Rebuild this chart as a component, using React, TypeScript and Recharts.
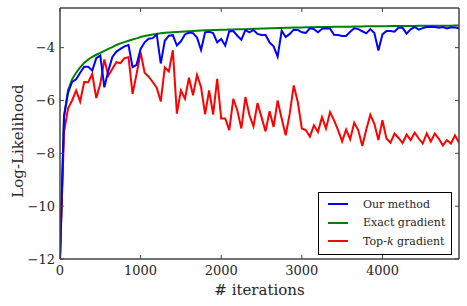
import React from "react";
import { LineChart, Line, XAxis, YAxis } from "recharts";

const iterations = [
  0, 50, 100, 150, 200, 250, 300, 350, 400, 450, 500, 550, 600, 650, 700, 750, 800, 850, 900, 950,
  1000, 1050, 1100, 1150, 1200, 1250, 1300, 1350, 1400, 1450, 1500, 1550, 1600, 1650, 1700, 1750, 1800, 1850, 1900, 1950,
  2000, 2050, 2100, 2150, 2200, 2250, 2300, 2350, 2400, 2450, 2500, 2550, 2600, 2650, 2700, 2750, 2800, 2850, 2900, 2950,
  3000, 3050, 3100, 3150, 3200, 3250, 3300, 3350, 3400, 3450, 3500, 3550, 3600, 3650, 3700, 3750, 3800, 3850, 3900, 3950,
  4000, 4050, 4100, 4150, 4200, 4250, 4300, 4350, 4400, 4450, 4500, 4550, 4600, 4650, 4700, 4750, 4800, 4850, 4900, 4950,
];

const ourMethod = [
  -12, -6.6, -5.7, -5.3, -5.2, -4.95, -4.72, -4.72, -4.87, -4.4, -4.3, -5.5, -4.87, -4.35, -4.15, -4.05, -3.95, -3.9, -4.74, -4.65,
  -4.05, -3.8, -3.66, -3.64, -3.5, -4.6, -3.74, -3.55, -3.53, -3.92, -3.76, -3.5, -3.43, -3.45, -3.62, -4.09, -3.42, -3.4, -3.45, -3.8,
  -3.67, -3.92, -3.38, -3.37, -3.55, -3.7, -3.34, -3.42, -3.33, -3.48, -3.52, -3.52, -3.8, -3.95, -4.34, -3.36, -3.6, -3.48, -3.32, -3.33,
  -3.42, -3.44, -3.27, -3.3, -3.42, -3.29, -3.27, -3.28, -3.51, -3.52, -3.56, -3.56, -3.4, -3.27, -3.3, -3.38, -3.46, -3.3, -3.45, -4.11,
  -3.5, -3.37, -3.37, -3.4, -3.24, -3.25, -3.47, -3.31, -3.22, -3.32, -3.26, -3.22, -3.21, -3.22, -3.25, -3.22, -3.27, -3.23, -3.24, -3.27,
];

const exactGradient = [
  -12, -6.6, -5.6, -5.2, -4.95, -4.75, -4.58, -4.45, -4.35, -4.27, -4.2, -4.12, -4.05, -3.98, -3.9, -3.84, -3.79, -3.74, -3.69, -3.65,
  -3.6, -3.56, -3.53, -3.5, -3.48, -3.46, -3.44, -3.43, -3.42, -3.41, -3.4, -3.39, -3.38, -3.37, -3.36, -3.35, -3.345, -3.34, -3.335, -3.33,
  -3.325, -3.32, -3.315, -3.31, -3.305, -3.3, -3.3, -3.295, -3.29, -3.285, -3.28, -3.275, -3.27, -3.265, -3.26, -3.255, -3.25, -3.245, -3.24, -3.24,
  -3.235, -3.23, -3.23, -3.225, -3.22, -3.22, -3.215, -3.215, -3.21, -3.21, -3.21, -3.205, -3.205, -3.2, -3.2, -3.2, -3.195, -3.195, -3.195, -3.19,
  -3.19, -3.19, -3.185, -3.185, -3.185, -3.18, -3.18, -3.18, -3.18, -3.175, -3.175, -3.175, -3.175, -3.17, -3.17, -3.17, -3.17, -3.17, -3.165, -3.165,
];

const topKGradient = [
  -12, -7.2, -6.3, -6.0, -5.62, -6.04, -5.3, -5.31, -5.0, -5.91, -5.37, -4.45, -5.06, -4.8, -4.55, -4.59, -4.4, -4.36, -5.75, -5.0,
  -4.18, -4.95, -5.1, -5.3, -5.52, -6.04, -4.75, -4.9, -4.1, -6.5, -5.62, -5.94, -5.14, -5.8, -5.03, -5.5, -6.52, -5.62, -6.53, -5.18,
  -6.68, -6.68, -7.12, -5.94, -6.38, -7.06, -5.87, -6.56, -6.98, -6.1, -6.63, -7.17, -6.41, -7.0, -6.0, -6.68, -7.32, -6.5, -5.43, -6.06,
  -7.06, -7.12, -7.37, -6.94, -7.19, -6.63, -7.06, -6.44, -6.75, -7.12, -7.55, -7.1, -7.47, -6.84, -7.12, -7.72, -7.1, -6.54, -6.88, -7.5,
  -6.75, -7.44, -7.6, -7.25, -7.42, -7.61, -7.29, -7.5, -7.22, -7.44, -7.63, -7.25, -7.55, -7.25, -7.45, -7.7, -7.5, -7.63, -7.32, -7.6,
];

const xTicks = [0, 1000, 2000, 3000, 4000];
const yTicks = [-12, -10, -8, -6, -4];

const legendItems = [
  { label: "Our method", color: "#0000ff" },
  { label: "Exact gradient", color: "#008000" },
  { label: "Top-k gradient", color: "#ff0000" },
];

const data = iterations.map((it, i) => ({
  iter: it,
  ours: ourMethod[i],
  exact: exactGradient[i],
  topk: topKGradient[i],
}));

const W = 467;
const H = 306;
const PLOT_LEFT = 60;
const PLOT_RIGHT = 459;
const PLOT_TOP = 8;
const PLOT_BOTTOM = 259;
const FRAME = "#444";
const FONT = '"DejaVu Serif"';
const INK = "#262626";

const fmt = (v: number) => String(v).replace("-", "\u2212");

const XTick = (props: any) => {
  const { x, payload } = props;
  return (
    <g>
      <line x1={x} x2={x} y1={PLOT_BOTTOM} y2={PLOT_BOTTOM - 4} stroke={FRAME} strokeWidth={1} />
      <line x1={x} x2={x} y1={PLOT_TOP} y2={PLOT_TOP + 4} stroke={FRAME} strokeWidth={1} />
      <text x={x} y={PLOT_BOTTOM + 16} textAnchor="middle" fontSize={13} fill={INK} style={{ fontFamily: FONT }}>
        {fmt(payload.value)}
      </text>
    </g>
  );
};

const YTick = (props: any) => {
  const { y, payload } = props;
  return (
    <g>
      <line x1={PLOT_LEFT} x2={PLOT_LEFT + 4} y1={y} y2={y} stroke={FRAME} strokeWidth={1} />
      <line x1={PLOT_RIGHT} x2={PLOT_RIGHT - 4} y1={y} y2={y} stroke={FRAME} strokeWidth={1} />
      <text x={PLOT_LEFT - 5} y={y + 4.5} textAnchor="end" fontSize={13} fill={INK} style={{ fontFamily: FONT }}>
        {fmt(payload.value)}
      </text>
    </g>
  );
};

export default function App() {
  return (
    <div style={{ position: "absolute", left: 0, top: 0, width: W, height: H, background: "#fff" }}>
      <LineChart width={W} height={H} data={data} margin={{ top: 0, right: 0, bottom: 0, left: 0 }}>
        <XAxis
          dataKey="iter"
          type="number"
          domain={[0, 4950]}
          ticks={xTicks}
          height={H - PLOT_BOTTOM}
          tick={<XTick />}
          tickLine={false}
          axisLine={{ stroke: FRAME, strokeWidth: 1.5 }}
          allowDataOverflow
        />
        <XAxis
          xAxisId="top"
          orientation="top"
          dataKey="iter"
          type="number"
          domain={[0, 4950]}
          height={PLOT_TOP}
          tick={false}
          tickLine={false}
          axisLine={{ stroke: FRAME, strokeWidth: 1.5 }}
        />
        <YAxis
          type="number"
          domain={[-12, -2.5]}
          ticks={yTicks}
          width={PLOT_LEFT}
          tick={<YTick />}
          tickLine={false}
          axisLine={{ stroke: FRAME, strokeWidth: 1.5 }}
          allowDataOverflow
        />
        <YAxis
          yAxisId="right"
          orientation="right"
          type="number"
          domain={[-12, -2.5]}
          width={W - PLOT_RIGHT}
          tick={false}
          tickLine={false}
          axisLine={{ stroke: FRAME, strokeWidth: 1.5 }}
        />
        <Line dataKey="exact" stroke="#008000" strokeWidth={2} dot={false} isAnimationActive={false} />
        <Line dataKey="topk" stroke="#ff0000" strokeWidth={2} dot={false} isAnimationActive={false} />
        <Line dataKey="ours" stroke="#0000ff" strokeWidth={2} dot={false} isAnimationActive={false} />
      </LineChart>
      <div
        style={{
          position: "absolute",
          left: 318,
          top: 192,
          width: 132,
          height: 59,
          border: "1px solid #000",
          background: "#fff",
          fontFamily: FONT,
          fontSize: 11,
          color: INK,
          paddingTop: 2,
          boxSizing: "content-box",
        }}
      >
        {legendItems.map((item) => (
          <div key={item.label} style={{ display: "flex", alignItems: "center", height: 18.5 }}>
            <div style={{ width: 20, height: 2, background: item.color, marginLeft: 9, marginRight: 15 }} />
            <span style={{ whiteSpace: "nowrap" }}>
              {item.label.startsWith("Top-k") ? (
                <>
                  Top-<i>k</i> gradient
                </>
              ) : (
                item.label
              )}
            </span>
          </div>
        ))}
      </div>
      <div
        style={{
          position: "absolute",
          left: PLOT_LEFT,
          width: PLOT_RIGHT - PLOT_LEFT,
          top: 281,
          textAlign: "center",
          fontFamily: FONT,
          fontSize: 15,
          color: INK,
        }}
      >
        # iterations
      </div>
      <div
        style={{
          position: "absolute",
          left: 18,
          top: 141,
          transform: "translate(-50%, -50%) rotate(-90deg)",
          whiteSpace: "nowrap",
          fontFamily: FONT,
          fontSize: 15,
          color: INK,
        }}
      >
        Log-Likelihood
      </div>
    </div>
  );
}
